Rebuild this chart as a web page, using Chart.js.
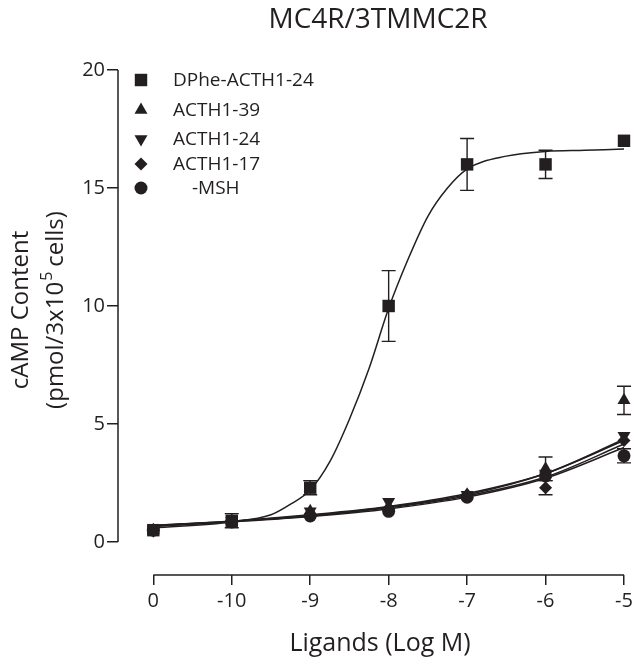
<!DOCTYPE html>
<html>
<head>
<meta charset="utf-8">
<script src="https://cdn.jsdelivr.net/npm/chart.js@4"></script>
<style>
  body { margin: 0; background: #fff; }
  #wrap { width: 633px; height: 660px; }
</style>
</head>
<body>
<div id="wrap"><canvas id="chart" width="633" height="660"></canvas></div>
<script>
// Data (x positions are tick slots 0..6)
const xPos = [0, 1, 2, 3, 4, 5, 6];
const xTickLabels = ['0', '-10', '-9', '-8', '-7', '-6', '-5'];
const yTicks = [0, 5, 10, 15, 20];

const seriesNames = ['DPhe-ACTH1-24', 'ACTH1-39', 'ACTH1-24', 'ACTH1-17', '-MSH'];

const dpheMean = [0.5, 0.9, 2.3, 10.0, 16.0, 16.0, 17.0];
const dpheErr = [0.1, 0.3, 0.3, 1.5, 1.1, 0.6, 0.1];
const acth139Mean = [0.5, 0.9, 1.3, 1.5, 2.0, 3.1, 6.0];
const acth139Err = [0.1, 0.1, 0.1, 0.1, 0.1, 0.5, 0.6];
const acth124Mean = [0.5, 0.9, 1.3, 1.7, 2.0, 2.9, 4.5];
const acth124Err = [0.1, 0.1, 0.1, 0.1, 0.1, 0.2, 0.15];
const acth117Mean = [0.5, 0.9, 1.1, 1.4, 2.0, 2.3, 4.3];
const acth117Err = [0.1, 0.1, 0.1, 0.1, 0.1, 0.3, 0.1];
const mshMean = [0.5, 0.85, 1.1, 1.3, 1.9, 2.8, 3.65];
const mshErr = [0.1, 0.1, 0.1, 0.1, 0.1, 0.2, 0.3];

// fitted curves
const dpheFitX = [0, 1, 1.5, 1.75, 2, 2.25, 2.5, 2.75, 3, 3.25, 3.5, 3.75, 4, 4.5, 5, 5.5, 6];
const dpheFitY = [0.6, 0.85, 1.15, 1.6, 2.2, 3.4, 5.2, 7.35, 9.9, 12.0, 13.8, 15.0, 15.8, 16.35, 16.55, 16.6, 16.65];
const acth139Fit = [0.7, 0.88, 1.12, 1.48, 2.0, 2.9, 4.3];
const acth124Fit = [0.7, 0.88, 1.15, 1.5, 2.05, 2.9, 4.35];
const acth117Fit = [0.68, 0.86, 1.1, 1.45, 1.95, 2.75, 4.15];
const mshFit = [0.65, 0.85, 1.08, 1.4, 1.9, 2.7, 4.0];

const ink = '#231f20';
const font = "'Open Sans', sans-serif";

function pts(xs, ys) {
    return xs.map((x, i) => ({ x: x, y: ys[i] }));
}

const markers = [
    { style: 'rect', radius: 8.8, rotation: 0 },
    { style: 'triangle', radius: 7.5, rotation: 0 },
    { style: 'triangle', radius: 7.5, rotation: 180 },
    { style: 'rectRot', radius: 6.5, rotation: 0 },
    { style: 'circle', radius: 6.5, rotation: 0 }
];

const means = [dpheMean, acth139Mean, acth124Mean, acth117Mean, mshMean];
const errs = [dpheErr, acth139Err, acth124Err, acth117Err, mshErr];

function markerSet(i) {
    return {
        type: 'scatter',
        label: seriesNames[i],
        data: pts(xPos, means[i]),
        errors: errs[i],
        pointStyle: markers[i].style,
        pointRadius: markers[i].radius,
        pointRotation: markers[i].rotation,
        pointBackgroundColor: ink,
        pointBorderColor: ink,
        pointBorderWidth: 0,
        showLine: false,
        clip: false,
        order: 0
    };
}

function fitSet(data) {
    return {
        type: 'line',
        data: data,
        borderColor: ink,
        borderWidth: 1.5,
        pointRadius: 0,
        cubicInterpolationMode: 'monotone',
        fill: false,
        clip: false,
        order: 1
    };
}

// Error bars under the markers
const errorBars = {
    id: 'errorBars',
    beforeDatasetsDraw(chart) {
        const ctx = chart.ctx;
        const xs = chart.scales.x, ys = chart.scales.y;
        ctx.save();
        ctx.strokeStyle = ink;
        ctx.lineWidth = 1.4;
        chart.data.datasets.forEach(ds => {
            if (!ds.errors) return;
            ds.data.forEach((p, i) => {
                const e = ds.errors[i];
                const px = xs.getPixelForValue(p.x);
                const top = ys.getPixelForValue(p.y + e);
                const bot = ys.getPixelForValue(p.y - e);
                if ((bot - top) / 2 < 7) return; // hidden behind marker
                ctx.beginPath();
                ctx.moveTo(px, top); ctx.lineTo(px, bot);
                ctx.moveTo(px - 7, top); ctx.lineTo(px + 7, top);
                ctx.moveTo(px - 7, bot); ctx.lineTo(px + 7, bot);
                ctx.stroke();
            });
        });
        ctx.restore();
    }
};

// Axis lines, titles and legend
const decorations = {
    id: 'decorations',
    afterDraw(chart) {
        const ctx = chart.ctx;
        const xs = chart.scales.x, ys = chart.scales.y;
        const area = chart.chartArea;
        ctx.save();
        ctx.strokeStyle = ink;
        ctx.lineWidth = 1.5;
        ctx.beginPath();
        ctx.moveTo(area.left, ys.getPixelForValue(yTicks[0]));
        ctx.lineTo(area.left, ys.getPixelForValue(yTicks[yTicks.length - 1]));
        ctx.moveTo(xs.getPixelForValue(xPos[0]), area.bottom);
        ctx.lineTo(xs.getPixelForValue(xPos[xPos.length - 1]), area.bottom);
        ctx.stroke();

        ctx.fillStyle = ink;
        ctx.textAlign = 'center';
        ctx.textBaseline = 'alphabetic';
        ctx.font = '28px ' + font;
        ctx.fillText('MC4R/3TMMC2R', 378, 28);

        ctx.font = '25px ' + font;
        ctx.fillText('Ligands (Log M)', 380, 651);

        // y title, rotated
        ctx.save();
        ctx.translate(0, 310);
        ctx.rotate(-Math.PI / 2);
        ctx.font = '24px ' + font;
        ctx.fillText('cAMP Content', 0, 28);
        const a = '(pmol/3x10', sup = '5', b = 'cells)';
        const wa = ctx.measureText(a).width, wb = ctx.measureText(b).width;
        ctx.font = '16px ' + font;
        const ws = ctx.measureText(sup).width + 6;
        let x0 = -(wa + ws + wb) / 2;
        ctx.textAlign = 'left';
        ctx.font = '24px ' + font;
        ctx.fillText(a, x0, 63);
        ctx.font = '16px ' + font;
        ctx.fillText(sup, x0 + wa + 1, 52);
        ctx.font = '24px ' + font;
        ctx.fillText(b, x0 + wa + ws, 63);
        ctx.restore();

        // legend
        const rows = [80, 110, 139, 164, 188];
        const textX = [173, 173, 173, 173, 192];
        ctx.font = '19px ' + font;
        ctx.textAlign = 'left';
        ctx.textBaseline = 'middle';
        seriesNames.forEach((name, i) => {
            const m = markers[i];
            if (Chart.helpers && Chart.helpers.drawPoint) {
                ctx.fillStyle = ink;
                ctx.strokeStyle = ink;
                ctx.lineWidth = 0;
                Chart.helpers.drawPoint(ctx, { pointStyle: m.style, radius: m.radius, rotation: m.rotation, borderWidth: 0 }, 141, rows[i]);
            }
            ctx.fillStyle = ink;
            ctx.fillText(name, textX[i], rows[i] + 1);
        });
        ctx.restore();
    }
};

const datasets = [];
for (let i = 0; i < 5; i++) datasets.push(markerSet(i));
datasets.push(fitSet(pts(dpheFitX, dpheFitY)));
datasets.push(fitSet(pts(xPos, acth139Fit)));
datasets.push(fitSet(pts(xPos, acth124Fit)));
datasets.push(fitSet(pts(xPos, acth117Fit)));
datasets.push(fitSet(pts(xPos, mshFit)));

new Chart(document.getElementById('chart'), {
    type: 'scatter',
    data: { datasets: datasets },
    options: {
        responsive: false,
        animation: false,
        layout: { padding: { top: 70, right: 9, left: 0, bottom: 0 } },
        plugins: { legend: { display: false }, tooltip: { enabled: false }, title: { display: false } },
        scales: {
            x: {
                type: 'linear',
                min: -0.45,
                max: 6,
                afterFit: s => { s.height = 85; s.paddingLeft = 0; s.paddingRight = 0; },
                afterBuildTicks: s => { s.ticks = xPos.map(v => ({ value: v })); },
                grid: { drawOnChartArea: false, drawTicks: true, tickLength: 10, color: ink, lineWidth: 1.5 },
                border: { display: false },
                ticks: {
                    color: ink,
                    padding: 4,
                    maxRotation: 0,
                    font: { family: font, size: 20 },
                    callback: v => xTickLabels[xPos.indexOf(v)]
                }
            },
            y: {
                type: 'linear',
                min: -1.4,
                max: 20,
                afterFit: s => { s.width = 118; },
                afterBuildTicks: s => { s.ticks = yTicks.map(v => ({ value: v })); },
                grid: { drawOnChartArea: false, drawTicks: true, tickLength: 11, color: ink, lineWidth: 1.5 },
                border: { display: false },
                ticks: {
                    color: ink,
                    padding: 2,
                    font: { family: font, size: 20 }
                }
            }
        }
    },
    plugins: [errorBars, decorations]
});
</script>
</body>
</html>
